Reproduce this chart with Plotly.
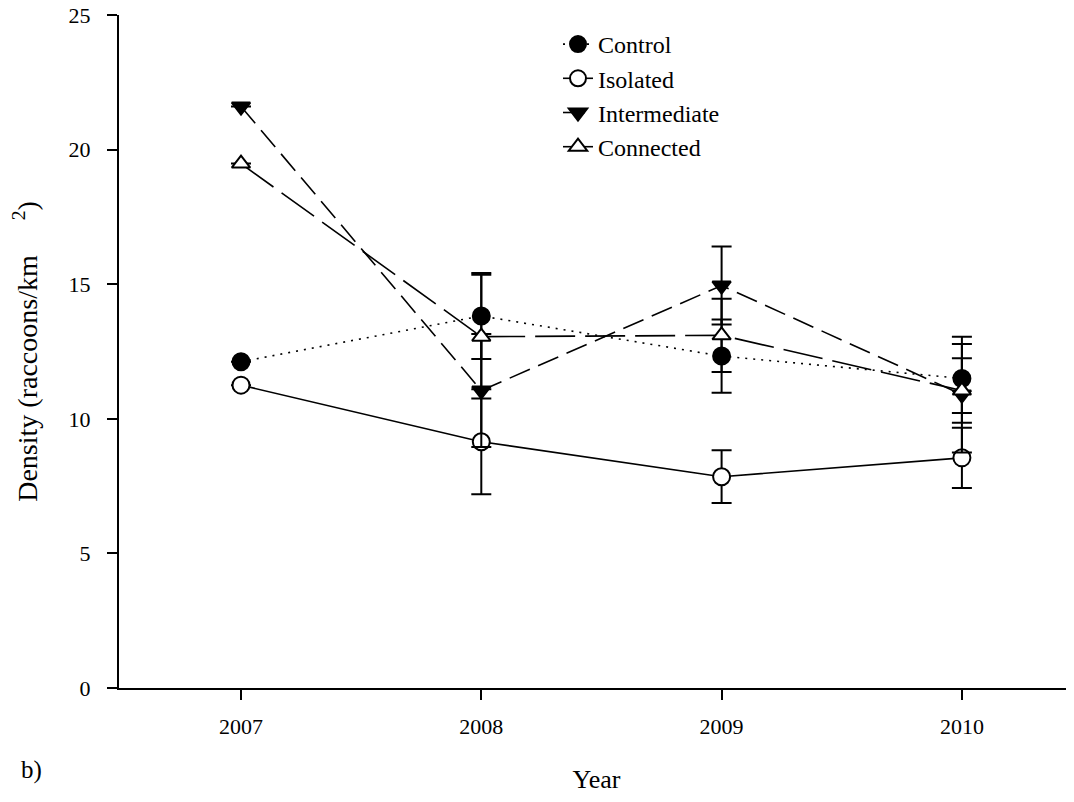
import plotly.graph_objects as go

years = [2007, 2008, 2009, 2010]
year_labels = ["2007", "2008", "2009", "2010"]

control = [12.12, 13.82, 12.33, 11.5]
control_se = [0, 1.6, 1.36, 1.28]

isolated = [11.25, 9.15, 7.85, 8.55]
isolated_se = [0, 1.95, 0.98, 1.12]

intermediate = [21.6, 11.05, 14.95, 10.9]
intermediate_se = [0, 2.1, 1.45, 2.15]

connected = [19.48, 13.05, 13.1, 11.05]
connected_se = [0, 2.3, 1.36, 1.2]

y_ticks = [0, 5, 10, 15, 20, 25]

FONT = "Liberation Serif, Times New Roman, serif"

# page offset (browser body margin) compensation
OFF = 8
W, H = 1074 - OFF, 802 - 2 * OFF
L, T = 119 - OFF, 15 - OFF
PLOT_H = 673
B = H - T - PLOT_H

fig = go.Figure()

def add_series(name, y, se, symbol, fill, dash, msize):
    fig.add_trace(go.Scatter(
        x=years, y=y, name=name, mode="lines+markers",
        line=dict(color="black", width=1.6, dash=dash),
        marker=dict(symbol=symbol, size=msize, color=fill,
                    line=dict(color="black", width=2)),
        error_y=dict(type="data", array=se, visible=True, color="black",
                     thickness=2, width=10),
    ))

add_series("Control", control, control_se, "circle", "black", "2px,6px", 17)
add_series("Isolated", isolated, isolated_se, "circle", "white", "solid", 17)
add_series("Intermediate", intermediate, intermediate_se, "triangle-down", "black", "22px,9px", 16)
add_series("Connected", connected, connected_se, "triangle-up", "white", "40px,10px", 16)

plot_w = W - L
px_per_year = 240.3
x0 = 2007 - (241 - 119) / px_per_year
x1 = x0 + plot_w / px_per_year

fig.update_layout(
    width=W, height=H,
    margin=dict(l=L, r=0, t=T, b=B, autoexpand=False),
    paper_bgcolor="white", plot_bgcolor="white",
    font=dict(family=FONT, size=22, color="black"),
    showlegend=True,
    legend=dict(x=(558 - 119) / plot_w, y=1 - (22 - 15) / PLOT_H,
                xanchor="left", yanchor="top",
                font=dict(family=FONT, size=24), bgcolor="rgba(0,0,0,0)",
                tracegroupgap=0),
    xaxis=dict(range=[x0, x1], tickvals=years, ticktext=year_labels,
               automargin=False,
               showgrid=False, zeroline=False, showline=True, linecolor="black",
               linewidth=2, ticks="outside", ticklen=10, tickwidth=2,
               tickcolor="black", ticklabelstandoff=8, ticklabeloverflow="allow",
               title=dict(text="Year", font=dict(family=FONT, size=26), standoff=44)),
    yaxis=dict(range=[0, 25], tickvals=y_ticks, showgrid=False, zeroline=False,
               automargin=False,
               showline=True, linecolor="black", linewidth=2, ticks="outside",
               ticklen=10, tickwidth=2, tickcolor="black", ticklabelstandoff=12,
               ticklabeloverflow="allow",
               title=dict(text="Density (raccoons/km\u00a0\u00a0\u00a0\u00a0\u00a0<sup>2</sup>)",
                          font=dict(family=FONT, size=28), standoff=24)),
    annotations=[dict(text="b)", x=(19 - 119) / plot_w, y=1 - (770 - 15) / PLOT_H,
                      xref="paper", yref="paper", xanchor="left", yanchor="middle",
                      showarrow=False, font=dict(family=FONT, size=25))],
)

fig.write_html("out.html")
